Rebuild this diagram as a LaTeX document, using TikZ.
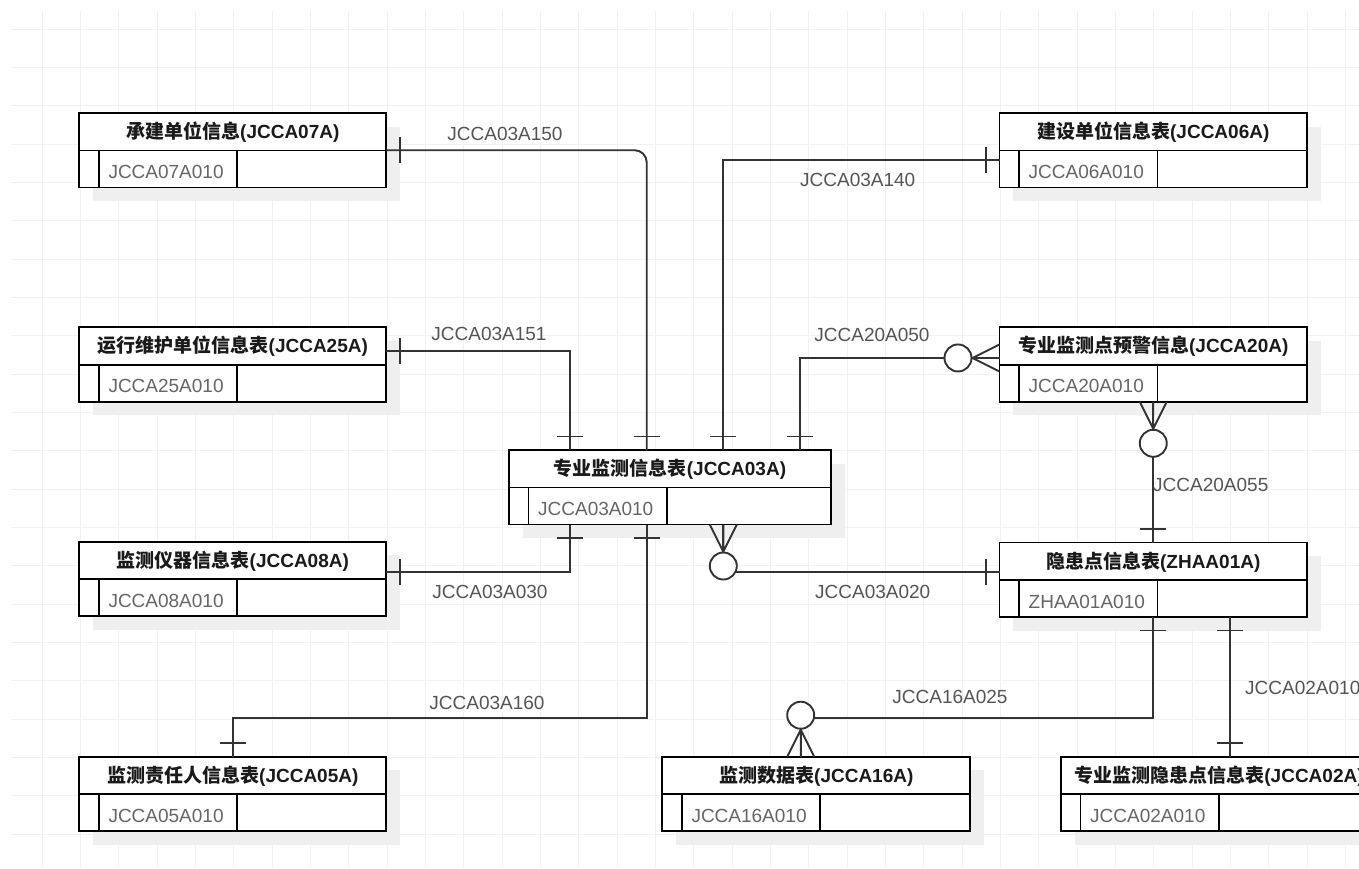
\documentclass[tikz,border=0pt]{standalone}
\usepackage{fontspec}
\setmainfont{Liberation Sans}
\newfontfamily\cjk{Noto Sans CJK SC}
\usetikzlibrary{calc}

\definecolor{gridc}{HTML}{F2F2F2}
\definecolor{shadowc}{HTML}{EFEFEF}
\definecolor{linec}{HTML}{333333}
\definecolor{keyc}{HTML}{666666}
\definecolor{labc}{HTML}{555555}
\definecolor{titc}{HTML}{1A1A1A}

\tikzset{
  entbox/.style={rectangle, draw=black, line width=1.8pt, fill=white,
    minimum height=74.5pt, inner sep=0pt, outer sep=0pt},
  entline/.style={draw=black, line width=1.8pt},
  conn/.style={draw=linec, line width=1.9pt},
  ttl/.style={font=\fontsize{19}{22}\selectfont\bfseries, text=titc,
    inner sep=0pt, anchor=base},
  keytxt/.style={font=\fontsize{19}{22}\selectfont, text=keyc,
    inner sep=0pt, anchor=base west},
  lab/.style={font=\fontsize{19}{22}\selectfont, text=labc, inner sep=0pt},
  % mandatory-one bar
  pics/onebar/.style={code={\draw[conn] (13.5,-13) -- (13.5,13);}},
  % zero-or-many: crow's foot and circle
  pics/zmany/.style={code={%
    \draw[conn] (0,-13.5) -- (27,0) -- (0,13.5) (0,0) -- (27,0);
    \draw[conn, fill=white] (41.5,0) circle (13.5);}},
}

% entity table: name, left, top, width, title, key field
\newcommand{\entity}[6]{%
  \fill[shadowc] (#2+13.5,#3+13.5) rectangle ++(#4,74.5);
  \node[entbox, minimum width=#4pt, anchor=north west] (#1) at (#2,#3) {};
  \draw[entline] ($(#1.north west)+(0,37.5)$) -- ($(#1.north east)+(0,37.5)$);
  \draw[entline] ($(#1.south west)+(19.5,0)$) -- ($(#1.north west)+(19.5,37.5)$);
  \draw[entline] ($(#1.south west)+(158,0)$) -- ($(#1.north west)+(158,37.5)$);
  \node[ttl] (#1-t) at ($(#1.north)+(0,25.5)$) {#5};
  \node[keytxt] (#1-k) at ($(#1.north west)+(29,65.5)$) {#6};
}

\begin{document}
\begin{tikzpicture}[x=1pt, y=-1pt]
  \useasboundingbox (0,0) rectangle (1359,868);
  \clip (0,0) rectangle (1359,868);
  \fill[white] (0,0) rectangle (1359,868);

  % background grid
  \foreach \k in {0,...,34}
    \draw[gridc, line width=1pt] (42.33+38.33*\k,11) -- (42.33+38.33*\k,868);
  \foreach \k in {0,...,21}
    \draw[gridc, line width=1pt] (11,29.33+38.33*\k) -- (1359,29.33+38.33*\k);

  % tables
  \entity{e07}{79.3}{113}{307}{{\cjk 承建单位信息}(JCCA07A)}{JCCA07A010}
  \entity{e06}{999.5}{113}{307.5}{{\cjk 建设单位信息表}(JCCA06A)}{JCCA06A010}
  \entity{e25}{79.3}{327.3}{307}{{\cjk 运行维护单位信息表}(JCCA25A)}{JCCA25A010}
  \entity{e20}{999.5}{327.3}{307.5}{{\cjk 专业监测点预警信息}(JCCA20A)}{JCCA20A010}
  \entity{e03}{509}{450}{322}{{\cjk 专业监测信息表}(JCCA03A)}{JCCA03A010}
  \entity{e08}{79.3}{541.7}{307}{{\cjk 监测仪器信息表}(JCCA08A)}{JCCA08A010}
  \entity{e01}{999.5}{542.5}{307.5}{{\cjk 隐患点信息表}(ZHAA01A)}{ZHAA01A010}
  \entity{e05}{79.3}{756.7}{307}{{\cjk 监测责任人信息表}(JCCA05A)}{JCCA05A010}
  \entity{e16}{662.3}{756.7}{308}{{\cjk 监测数据表}(JCCA16A)}{JCCA16A010}
  \entity{e02}{1061}{756.7}{316}{{\cjk 专业监测隐患点信息表}(JCCA02A)}{JCCA02A010}

  % attachment points on the central table
  \coordinate (t1) at ($(e03.north west)+(61,0)$);
  \coordinate (t2) at ($(e03.north west)+(137.7,0)$);
  \coordinate (t3) at ($(e03.north west)+(214.3,0)$);
  \coordinate (t4) at ($(e03.north west)+(291,0)$);
  \coordinate (b1) at ($(e03.south west)+(61,0)$);
  \coordinate (b2) at ($(e03.south west)+(137.7,0)$);
  \coordinate (b3) at ($(e03.south west)+(214.3,0)$);
  \coordinate (a06) at ($(e06.west)+(0,9.3)$);
  \coordinate (a25) at ($(e25.east)+(0,-14)$);
  \coordinate (a20) at ($(e20.west)+(0,-6.6)$);
  \coordinate (a08) at ($(e08.east)+(0,-7)$);
  \coordinate (a01) at ($(e01.west)+(0,-7.8)$);
  \coordinate (a16) at ($(e16.north west)+(138.4,0)$);
  \coordinate (a01b) at ($(e01.south west)+(230.5,0)$);
  \coordinate (a02) at ($(e02.north west)+(169,0)$);

  % relationships
  \draw[conn, rounded corners=12pt] (e07.east) -| (t2);
  \draw[conn] (a06) -| (t3);
  \draw[conn] (a25) -| (t1);
  \draw[conn] (a20) -| (t4);
  \draw[conn] (a08) -| (b1);
  \draw[conn] (e05.north) -- ++(0,-38.4) -| (b2);
  \draw[conn] (b3) |- (a01);
  \draw[conn] (e20.south) -- (e01.north);
  \draw[conn] (e01.south) -- ++(0,101.3) -| (a16);
  \draw[conn] (a01b) -- (a02);

  % cardinality markers
  \pic at (e07.east) {onebar};
  \pic[rotate=90] at (t2) {onebar};
  \pic[rotate=180] at (a06) {onebar};
  \pic[rotate=90] at (t3) {onebar};
  \pic at (a25) {onebar};
  \pic[rotate=90] at (t1) {onebar};
  \pic[rotate=180] at (a20) {zmany};
  \pic[rotate=90] at (t4) {onebar};
  \pic at (a08) {onebar};
  \pic[rotate=-90] at (b1) {onebar};
  \pic[rotate=90] at (e05.north) {onebar};
  \pic[rotate=-90] at (b2) {onebar};
  \pic[rotate=-90] at (b3) {zmany};
  \pic[rotate=180] at (a01) {onebar};
  \pic[rotate=-90] at (e20.south) {zmany};
  \pic[rotate=90] at (e01.north) {onebar};
  \pic[rotate=-90] at (e01.south) {onebar};
  \pic[rotate=90] at (a16) {zmany};
  \pic[rotate=-90] at (a01b) {onebar};
  \pic[rotate=90] at (a02) {onebar};

  % relationship names
  \node[lab, anchor=base] (l150) at (505,140.1) {JCCA03A150};
  \node[lab, anchor=base] (l140) at (857.7,186.8) {JCCA03A140};
  \node[lab, anchor=base] (l151) at (489,340.1) {JCCA03A151};
  \node[lab, anchor=base] (l050) at (872,341.8) {JCCA20A050};
  \node[lab, anchor=base] (l030) at (490,598.5) {JCCA03A030};
  \node[lab, anchor=base] (l160) at (487,709.8) {JCCA03A160};
  \node[lab, anchor=base] (l020) at (872.7,598.5) {JCCA03A020};
  \node[lab, anchor=base west] (l055) at (1153,491.8) {JCCA20A055};
  \node[lab, anchor=base] (l025) at (950,703.8) {JCCA16A025};
  \node[lab, anchor=base west] (l010) at (1245,694.8) {JCCA02A010};
\end{tikzpicture}
\end{document}
